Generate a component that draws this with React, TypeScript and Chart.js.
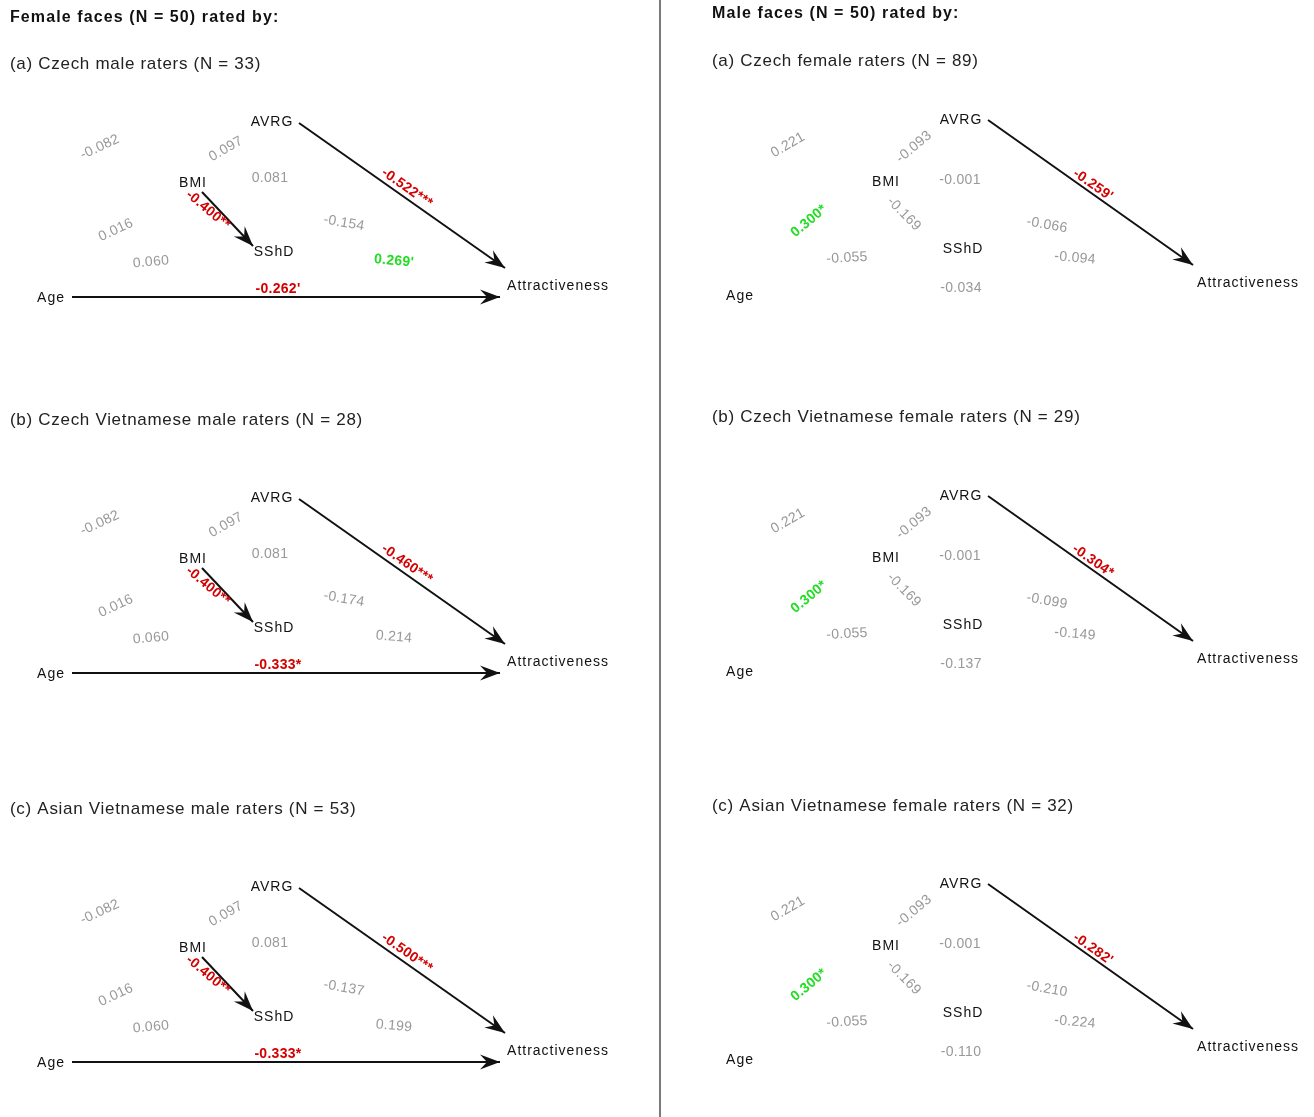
import React, { useEffect, useRef } from 'react';
import { Chart, registerables } from 'chart.js';

Chart.register(...registerables);

const W = 1314;
const H = 1117;

// ---- text data ----
const sideTitles = ['Female faces (N = 50) rated by:', 'Male faces (N = 50) rated by:'];
const femaleFacePanels = [
  '(a) Czech male raters (N = 33)',
  '(b) Czech Vietnamese male raters (N = 28)',
  '(c) Asian Vietnamese male raters (N = 53)',
];
const maleFacePanels = [
  '(a) Czech female raters (N = 89)',
  '(b) Czech Vietnamese female raters (N = 29)',
  '(c) Asian Vietnamese female raters (N = 32)',
];
const nodeNames = ['AVRG', 'BMI', 'SShD', 'Age', 'Attractiveness'];
// path order for all coefficient arrays
const pathNames = [
  'Age-AVRG', 'BMI-AVRG', 'AVRG-SShD', 'Age-BMI', 'Age-SShD',
  'BMI-Attractiveness', 'BMI-SShD', 'AVRG-Attractiveness', 'SShD-Attractiveness', 'Age-Attractiveness',
];

// ---- coefficients (female faces) ----
const femCzechMale = [-0.082, 0.097, 0.081, 0.016, 0.060, -0.154, -0.400, -0.522, 0.269, -0.262];
const femCzechMaleSig = ['', '', '', '', '', '', '**', '***', "'", "'"];
const femCzVietMale = [-0.082, 0.097, 0.081, 0.016, 0.060, -0.174, -0.400, -0.460, 0.214, -0.333];
const femCzVietMaleSig = ['', '', '', '', '', '', '**', '***', '', '*'];
const femAsVietMale = [-0.082, 0.097, 0.081, 0.016, 0.060, -0.137, -0.400, -0.500, 0.199, -0.333];
const femAsVietMaleSig = ['', '', '', '', '', '', '**', '***', '', '*'];

// ---- coefficients (male faces) ----
const maleCzechFemale = [0.221, -0.093, -0.001, 0.300, -0.055, -0.066, -0.169, -0.259, -0.094, -0.034];
const maleCzechFemaleSig = ['', '', '', '*', '', '', '', "'", '', ''];
const maleCzVietFemale = [0.221, -0.093, -0.001, 0.300, -0.055, -0.099, -0.169, -0.304, -0.149, -0.137];
const maleCzVietFemaleSig = ['', '', '', '*', '', '', '', '*', '', ''];
const maleAsVietFemale = [0.221, -0.093, -0.001, 0.300, -0.055, -0.210, -0.169, -0.282, -0.224, -0.110];
const maleAsVietFemaleSig = ['', '', '', '*', '', '', '', "'", '', ''];

// ---- layout (diagram coordinates) ----
const layout = [
  {
    header: { x: 10, y: 18 },
    subY: [64, 420, 809],
    offsets: [0, 376, 765],
    titles: femaleFacePanels,
    values: [femCzechMale, femCzVietMale, femAsVietMale],
    sigs: [femCzechMaleSig, femCzVietMaleSig, femAsVietMaleSig],
    nodes: [[272, 122], [193, 183], [274, 252], [51, 298], [558, 286]],
    labels: [
      [100, 147, -25], [226, 149, -30], [270, 178, 0], [116, 230, -25], [151, 262, -5],
      [344, 223, 10], [208, 210, 40], [407, 188, 35], [394, 261, 5], [278, 289, 0],
    ],
    arrows: [
      [[299, 123], [505, 268]],
      [[202, 192], [253, 246]],
      [[72, 297], [500, 297]],
    ],
  },
  {
    header: { x: 712, y: 14 },
    subY: [61, 417, 806],
    offsets: [0, 376, 764],
    titles: maleFacePanels,
    values: [maleCzechFemale, maleCzVietFemale, maleAsVietFemale],
    sigs: [maleCzechFemaleSig, maleCzVietFemaleSig, maleAsVietFemaleSig],
    nodes: [[961, 120], [886, 182], [963, 249], [740, 296], [1248, 283]],
    labels: [
      [788, 145, -30], [914, 147, -40], [960, 180, 0], [809, 221, -40], [847, 258, -3],
      [1047, 225, 10], [904, 214, 45], [1093, 185, 35], [1075, 258, 5], [961, 288, 0],
    ],
    arrows: [[[988, 120], [1193, 265]]],
  },
];

const FONT = '"Liberation Sans", Arial, sans-serif';

type TextItem = { text: string; x: number; y: number; rot: number; font: string; color: string; align: CanvasTextAlign; spacing?: string };

function buildTexts(): TextItem[] {
  const out: TextItem[] = [];
  layout.forEach((side, s) => {
    out.push({ text: sideTitles[s], x: side.header.x, y: side.header.y, rot: 0, font: `bold 16px ${FONT}`, color: '#111', align: 'left', spacing: '1.1px' });
    side.titles.forEach((t, p) => {
      out.push({ text: t, x: side.header.x, y: side.subY[p], rot: 0, font: `17px ${FONT}`, color: '#222', align: 'left', spacing: '0.7px' });
      const off = side.offsets[p];
      side.nodes.forEach((n, i) => {
        out.push({ text: nodeNames[i], x: n[0], y: n[1] + off, rot: 0, font: `14px ${FONT}`, color: '#111', align: 'center', spacing: '1px' });
      });
      side.values[p].forEach((v, i) => {
        const sig = side.sigs[p][i];
        const color = sig ? (v < 0 ? '#d40000' : '#22dd22') : '#999999';
        const lab = side.labels[i];
        out.push({
          text: v.toFixed(3) + sig,
          x: lab[0], y: lab[1] + off, rot: lab[2],
          font: `${sig ? 'bold ' : ''}14px ${FONT}`, color, align: 'center', spacing: '0.3px',
        });
      });
    });
  });
  return out;
}

function buildDatasets() {
  const ds: any[] = [];
  ds.push({
    label: 'divider', data: [{ x: 660, y: 0 }, { x: 660, y: H }],
    showLine: true, borderColor: '#7a7a7a', borderWidth: 2, pointRadius: 0, arrow: false,
  });
  layout.forEach((side) => {
    side.offsets.forEach((off) => {
      side.arrows.forEach((a) => {
        ds.push({
          label: 'path',
          data: [{ x: a[0][0], y: a[0][1] + off }, { x: a[1][0], y: a[1][1] + off }],
          showLine: true, borderColor: '#111', borderWidth: 2, pointRadius: 0, arrow: true,
        });
      });
    });
  });
  return ds;
}

const diagramPlugin = {
  id: 'diagram',
  afterDatasetsDraw(chart: any) {
    const ctx: CanvasRenderingContext2D = chart.ctx;
    const xs = chart.scales.x;
    const ys = chart.scales.y;
    ctx.save();
    // arrowheads
    chart.data.datasets.forEach((d: any) => {
      if (!d.arrow) return;
      const a = d.data[0];
      const b = d.data[1];
      const x1 = xs.getPixelForValue(a.x), y1 = ys.getPixelForValue(a.y);
      const x2 = xs.getPixelForValue(b.x), y2 = ys.getPixelForValue(b.y);
      const ang = Math.atan2(y2 - y1, x2 - x1);
      const L = 20, Wd = 7.5, N = 13;
      ctx.save();
      ctx.translate(x2, y2);
      ctx.rotate(ang);
      ctx.fillStyle = '#111';
      ctx.beginPath();
      ctx.moveTo(0, 0);
      ctx.lineTo(-L, -Wd);
      ctx.lineTo(-N, 0);
      ctx.lineTo(-L, Wd);
      ctx.closePath();
      ctx.fill();
      ctx.restore();
    });
    // texts
    buildTexts().forEach((t) => {
      const px = xs.getPixelForValue(t.x);
      const py = ys.getPixelForValue(t.y);
      ctx.save();
      ctx.translate(px, py);
      ctx.rotate((t.rot * Math.PI) / 180);
      ctx.font = t.font;
      (ctx as any).letterSpacing = t.spacing || '0px';
      ctx.fillStyle = t.color;
      ctx.textAlign = t.align;
      ctx.textBaseline = 'middle';
      ctx.fillText(t.text, 0, 0);
      ctx.restore();
    });
    ctx.restore();
  },
};

export default function App() {
  const ref = useRef<HTMLCanvasElement>(null);
  useEffect(() => {
    if (!ref.current) return;
    const chart = new Chart(ref.current, {
      type: 'scatter',
      data: { datasets: buildDatasets() },
      options: {
        animation: false,
        responsive: false,
        maintainAspectRatio: false,
        layout: { padding: 0 },
        plugins: { legend: { display: false }, tooltip: { enabled: false }, title: { display: false } },
        scales: {
          x: { type: 'linear', min: 0, max: W, display: false },
          y: { type: 'linear', min: 0, max: H, reverse: true, display: false },
        },
        events: [],
      },
      plugins: [diagramPlugin],
    } as any);
    return () => chart.destroy();
  }, []);
  return (
    <div style={{ position: 'absolute', left: 0, top: 0, width: W, height: H, background: '#fff' }}>
      <canvas ref={ref} width={W} height={H} style={{ width: W, height: H, display: 'block' }} />
    </div>
  );
}
